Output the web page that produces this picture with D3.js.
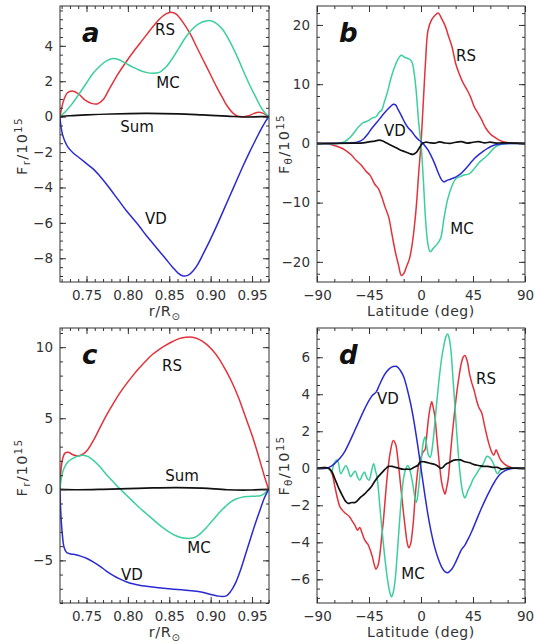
<!DOCTYPE html>
<html>
<head>
<meta charset="utf-8">
<script src="https://cdn.jsdelivr.net/npm/d3@7"></script>
<style>
  html, body { margin: 0; padding: 0; background: #fff; }
  svg { display: block; }
  text { font-family: "DejaVu Sans", sans-serif; }
</style>
</head>
<body>
<svg id="chart" width="535" height="643"></svg>
<script>
// ---------- Panel a: radial fluxes, 1st case (r/R_sun, F_r / 1e15) ----------
const aRS = [[0.718,0],[0.720,0.5],[0.723,1.0],[0.727,1.35],[0.733,1.45],[0.740,1.3],[0.748,0.95],[0.756,0.75],[0.763,0.72],[0.770,0.95],[0.778,1.6],[0.788,2.4],[0.798,3.1],[0.808,3.75],[0.818,4.35],[0.828,4.95],[0.838,5.5],[0.846,5.8],[0.852,5.9],[0.858,5.8],[0.867,5.3],[0.875,4.7],[0.883,3.95],[0.891,3.2],[0.899,2.45],[0.907,1.7],[0.914,1.1],[0.920,0.6],[0.927,0.2],[0.933,0.02],[0.940,0.0],[0.946,0.05],[0.952,0.17],[0.958,0.25],[0.963,0.2],[0.967,0.1],[0.970,0]];
const aMC = [[0.718,0],[0.725,0.3],[0.733,0.75],[0.742,1.35],[0.750,1.9],[0.758,2.45],[0.766,2.85],[0.774,3.15],[0.782,3.28],[0.790,3.2],[0.798,3.0],[0.806,2.8],[0.814,2.62],[0.822,2.5],[0.830,2.45],[0.838,2.5],[0.846,2.8],[0.854,3.3],[0.862,3.9],[0.870,4.5],[0.878,4.95],[0.886,5.25],[0.894,5.4],[0.900,5.42],[0.906,5.3],[0.914,4.95],[0.922,4.35],[0.930,3.6],[0.938,2.75],[0.946,1.9],[0.954,1.15],[0.960,0.6],[0.965,0.25],[0.970,0]];
const aVD = [[0.718,0],[0.719,-0.5],[0.721,-1.0],[0.724,-1.4],[0.728,-1.75],[0.734,-2.05],[0.742,-2.35],[0.750,-2.65],[0.758,-2.95],[0.766,-3.35],[0.774,-3.8],[0.782,-4.3],[0.790,-4.8],[0.798,-5.3],[0.806,-5.75],[0.814,-6.2],[0.822,-6.7],[0.830,-7.15],[0.838,-7.6],[0.846,-8.05],[0.854,-8.5],[0.861,-8.85],[0.867,-9.0],[0.873,-8.95],[0.879,-8.7],[0.885,-8.3],[0.891,-7.75],[0.899,-7.0],[0.907,-6.2],[0.915,-5.35],[0.923,-4.5],[0.931,-3.65],[0.939,-2.8],[0.947,-2.0],[0.955,-1.25],[0.961,-0.7],[0.966,-0.3],[0.970,0]];
const aSum = [[0.718,0],[0.73,0.05],[0.75,0.1],[0.78,0.15],[0.82,0.18],[0.86,0.16],[0.89,0.1],[0.92,0.03],[0.94,-0.02],[0.96,0],[0.97,0]];

// ---------- Panel b: latitudinal fluxes, 1st case (latitude, F_theta / 1e15) ----------
const bRS = [[-90,0],[-80,-0.1],[-75,-0.35],[-70,-0.7],[-65,-1.2],[-60,-2.0],[-56,-2.9],[-52,-3.6],[-48,-4.6],[-44,-5.4],[-40,-6.9],[-37,-7.6],[-34,-9.0],[-31,-10.8],[-28,-12.4],[-25,-15.5],[-22,-18.5],[-19.5,-20.5],[-17,-22.3],[-15,-22.0],[-12.5,-20.8],[-10,-19.5],[-8,-17.5],[-6,-14.5],[-4,-10.5],[-2,-5],[0,0],[2,7],[4,14],[6,19],[9,20.8],[12,21.6],[15,22.0],[18,21],[21,19.8],[24,18.0],[27,16.2],[30,13.5],[33,11.8],[36,10.4],[40,9.0],[43,7.8],[46,6.2],[49,5.2],[52,4.2],[56,2.6],[60,1.6],[64,1.0],[68,0.5],[72,0.25],[78,0.05],[90,0]];
const bMC = [[-90,0],[-72,0],[-66,0.3],[-62,0.9],[-58,1.8],[-54,2.8],[-50,3.5],[-46,3.8],[-42,4.3],[-39,4.5],[-36,5.3],[-34,5.6],[-32,6.8],[-29,8.7],[-26,11.0],[-23,12.8],[-20,14.2],[-17,14.9],[-14,14.5],[-11,14.3],[-8,13.8],[-6,12.0],[-4,8.5],[-2,3.5],[0,0],[2,-6],[4,-13],[6,-17],[8,-18.3],[11,-17.6],[14,-17.0],[17,-16.0],[20,-12.5],[23,-9.5],[26,-7.6],[30,-6.0],[34,-5.6],[38,-5.3],[42,-5.1],[46,-4.3],[50,-3.3],[54,-2.6],[58,-1.9],[62,-1.0],[66,-0.4],[70,-0.15],[76,-0.03],[90,0]];
const bVD = [[-90,0],[-60,0.1],[-54,0.3],[-50,0.7],[-46,1.6],[-42,2.7],[-38,3.6],[-34,4.6],[-30,5.5],[-27,6.1],[-24,6.6],[-22,6.5],[-20,5.8],[-17,4.7],[-14,3.5],[-11,2.6],[-8,2.0],[-5,1.2],[-2,0.6],[0,0.3],[3,-0.3],[6,-1.1],[9,-2.2],[12,-3.5],[15,-5.0],[18,-6.2],[20,-6.5],[23,-6.2],[26,-6.0],[30,-5.7],[34,-5.2],[38,-4.4],[42,-3.5],[46,-2.6],[50,-1.9],[54,-1.3],[58,-0.8],[62,-0.4],[66,-0.2],[72,-0.05],[90,0]];
const bSum = [[-90,0],[-60,0.05],[-50,0.1],[-44,0.3],[-40,0.4],[-36,0.55],[-33,0.4],[-30,0.1],[-26,-0.3],[-22,-0.7],[-18,-1.1],[-14,-1.4],[-10,-1.7],[-7,-1.85],[-4,-1.5],[-1,-0.6],[1,-0.05],[4,0.2],[8,0.1],[12,0.05],[16,0.25],[20,0.1],[25,0.0],[30,0.2],[35,0.3],[40,0.05],[45,0.2],[50,0.3],[55,0.1],[60,0.2],[65,0.05],[70,0.1],[90,0]];

// ---------- Panel c: radial fluxes, 2nd case ----------
const cRS = [[0.718,0],[0.719,1.2],[0.721,2.1],[0.724,2.55],[0.728,2.6],[0.733,2.45],[0.739,2.35],[0.745,2.45],[0.751,2.75],[0.758,3.4],[0.766,4.3],[0.774,5.2],[0.782,6.0],[0.790,6.75],[0.798,7.4],[0.806,8.0],[0.814,8.55],[0.822,9.05],[0.830,9.5],[0.838,9.85],[0.846,10.15],[0.854,10.4],[0.862,10.6],[0.870,10.7],[0.878,10.7],[0.886,10.55],[0.894,10.25],[0.902,9.8],[0.910,9.2],[0.918,8.4],[0.926,7.5],[0.934,6.4],[0.942,5.1],[0.950,3.8],[0.956,2.7],[0.961,1.7],[0.965,0.9],[0.968,0.35],[0.970,0]];
const cMC = [[0.718,0],[0.720,0.9],[0.723,1.5],[0.728,1.95],[0.734,2.2],[0.740,2.35],[0.746,2.4],[0.752,2.3],[0.758,2.05],[0.766,1.6],[0.774,1.05],[0.782,0.55],[0.790,0.05],[0.798,-0.4],[0.806,-0.85],[0.814,-1.3],[0.822,-1.7],[0.830,-2.1],[0.838,-2.5],[0.846,-2.85],[0.854,-3.15],[0.862,-3.35],[0.870,-3.45],[0.876,-3.45],[0.882,-3.35],[0.888,-3.1],[0.894,-2.75],[0.900,-2.35],[0.906,-1.95],[0.912,-1.55],[0.918,-1.2],[0.924,-0.9],[0.930,-0.7],[0.938,-0.55],[0.946,-0.5],[0.954,-0.48],[0.960,-0.45],[0.965,-0.3],[0.970,0]];
const cVD = [[0.718,0],[0.7185,-1.0],[0.7195,-2.2],[0.721,-3.3],[0.723,-4.1],[0.726,-4.45],[0.731,-4.55],[0.737,-4.6],[0.743,-4.7],[0.750,-4.85],[0.758,-5.1],[0.766,-5.4],[0.774,-5.75],[0.782,-6.05],[0.790,-6.3],[0.798,-6.5],[0.806,-6.65],[0.814,-6.75],[0.822,-6.82],[0.830,-6.88],[0.840,-6.95],[0.850,-7.0],[0.860,-7.05],[0.870,-7.1],[0.880,-7.15],[0.890,-7.25],[0.900,-7.4],[0.908,-7.5],[0.914,-7.55],[0.919,-7.5],[0.924,-7.2],[0.930,-6.6],[0.936,-5.7],[0.942,-4.6],[0.948,-3.5],[0.954,-2.4],[0.960,-1.4],[0.965,-0.6],[0.970,0]];
const cSum = [[0.718,0],[0.74,-0.03],[0.77,0],[0.80,0.05],[0.83,0.1],[0.86,0.12],[0.89,0.08],[0.92,-0.03],[0.945,-0.05],[0.97,0]];

// ---------- Panel d: latitudinal fluxes, 2nd case ----------
const dRS = [[-90,0],[-80,0],[-77,-0.3],[-74.5,-1.0],[-72,-1.7],[-70,-2.1],[-66,-2.4],[-62,-2.6],[-60,-2.8],[-57,-3.1],[-55,-3.35],[-53,-3.2],[-51,-3.5],[-48.5,-3.9],[-46,-4.1],[-44,-4.4],[-42,-4.8],[-40.5,-5.2],[-39,-5.45],[-37,-5.2],[-35.5,-4.6],[-34,-3.7],[-32.5,-2.8],[-30.5,-1.3],[-28.5,0.0],[-26.5,0.9],[-24,1.5],[-22,1.3],[-21,1.0],[-19.5,0.2],[-18,-0.7],[-16.5,-1.6],[-15,-2.5],[-13.5,-3.3],[-12,-4.0],[-10.5,-4.3],[-9,-4.1],[-8,-3.7],[-6.5,-2.8],[-5,-1.5],[-3.5,-0.5],[-2,0.2],[0,0.6],[2,0.9],[3.5,1.0],[5,1.8],[6.5,2.7],[8,3.3],[9.3,3.6],[10.5,3.3],[12,2.8],[13.5,1.8],[15,0.8],[16.5,-0.1],[18,-0.8],[19.5,-1.2],[20.8,-1.4],[22,-1.1],[23.5,-0.6],[25,0.4],[27,1.8],[29,3.0],[31,4.1],[33,5.0],[35,5.7],[36.5,6.0],[38,6.1],[40,5.8],[42,5.1],[44,4.6],[46,4.2],[48,3.7],[50,3.3],[52.5,3.0],[55,2.3],[58,1.5],[61,0.9],[63,0.7],[65,1.0],[66.5,0.8],[68.5,0.5],[71,0.3],[74,0.15],[78,0.05],[82,0],[90,0]];
const dMC = [[-90,0],[-80,0],[-77.5,-0.2],[-75.5,0.2],[-73,0.45],[-71.5,0.3],[-69.5,-0.3],[-67.5,-0.1],[-65,0.15],[-63,-0.1],[-61,-0.45],[-59,-0.3],[-57,-0.15],[-55,-0.45],[-53,-0.65],[-51,-0.4],[-49,-0.2],[-47,-0.5],[-45,-0.65],[-43,-0.2],[-41,0.25],[-39.5,-0.1],[-38,-0.5],[-36.5,-1.4],[-35,-2.5],[-33,-3.8],[-31,-5.0],[-29,-6.0],[-27,-6.7],[-25.5,-6.95],[-24,-6.7],[-22.5,-6.1],[-21,-5.0],[-19.5,-3.7],[-18,-2.4],[-16.5,-1.3],[-15,-0.5],[-13.5,-0.1],[-11.5,0.15],[-10,0.0],[-8.5,-0.4],[-7,-0.9],[-5.5,-1.5],[-4,-1.85],[-2.5,-1.3],[-1,-0.4],[0.5,0.6],[2,1.4],[3.5,1.7],[5,1.2],[6.5,0.7],[8,0.6],[9.5,1.0],[11,1.8],[12.5,2.8],[14,3.8],[16,5.0],[18,6.0],[20,6.7],[21.5,7.1],[23,7.25],[24.5,7.0],[26,6.3],[27.5,5.0],[29,3.7],[30.5,2.3],[32,1.0],[33.5,-0.1],[35,-0.9],[36.5,-1.4],[38,-1.6],[39.5,-1.4],[41,-1.15],[43,-0.9],[45,-0.6],[47,-0.4],[49,-0.2],[51,0.0],[53,0.15],[55,0.4],[57,0.65],[59,0.6],[61,0.45],[63,0.2],[65,-0.2],[66.5,-0.3],[68,-0.15],[70,-0.05],[75,0],[90,0]];
const dVD = [[-90,0],[-82,0],[-78,0.1],[-74,0.3],[-70,0.55],[-66,0.9],[-62,1.4],[-58,1.95],[-54,2.5],[-50,3.05],[-46,3.55],[-42,3.95],[-39,4.1],[-36,4.5],[-33,4.9],[-30,5.2],[-27,5.4],[-24,5.5],[-21,5.5],[-18,5.3],[-15,4.95],[-12,4.3],[-9,3.5],[-6,2.5],[-3,1.3],[0,0],[3,-1.3],[6,-2.5],[9,-3.5],[12,-4.3],[15,-4.9],[18,-5.35],[21,-5.6],[23,-5.65],[26,-5.5],[29,-5.2],[32,-4.8],[35,-4.4],[38,-4.15],[41,-3.8],[44,-3.4],[48,-2.8],[52,-2.2],[56,-1.65],[60,-1.15],[64,-0.7],[68,-0.35],[72,-0.15],[76,-0.05],[82,0],[90,0]];
const dSum = [[-90,0],[-80,0],[-77,-0.2],[-75,-0.5],[-73,-0.8],[-71,-1.1],[-69,-1.35],[-67,-1.6],[-65,-1.8],[-63,-1.9],[-60,-1.85],[-57,-1.85],[-55,-1.75],[-52,-1.55],[-49,-1.4],[-46,-1.2],[-43,-1.0],[-40,-0.7],[-37,-0.45],[-34,-0.25],[-31,-0.05],[-28,0.1],[-25,0.1],[-22,0.05],[-19,0.0],[-16,-0.05],[-12,-0.05],[-9,-0.05],[-6,0.05],[-3,0.15],[0,0.35],[3,0.35],[6,0.3],[9,0.25],[12,0.2],[15,0.1],[17,0.0],[19,0.05],[21,0.2],[24,0.3],[27,0.4],[30,0.45],[34,0.45],[38,0.35],[42,0.3],[46,0.2],[50,0.15],[54,0.1],[58,0.1],[62,0.05],[66,0.05],[70,-0.05],[74,0],[90,0]];

// ---------- Tick values ----------
const radiusTicks = [0.75, 0.80, 0.85, 0.90, 0.95];
const latitudeTicks = [-90, -45, 0, 45, 90];
const aYTicks = [-8, -6, -4, -2, 0, 2, 4];
const bYTicks = [-20, -10, 0, 10, 20];
const cYTicks = [-5, 0, 5, 10];
const dYTicks = [-6, -4, -2, 0, 2, 4, 6];

const seriesNames = ["RS", "MC", "VD", "Sum"];
const colors = { RS: "#e2323b", MC: "#3ccf9c", VD: "#2a2ad2", Sum: "#111111" };

const svg = d3.select("#chart");

const radialXTitle = [{ t: "r/R", size: 14.5 }, { t: "\u2299", size: 10, dy: 4 }];
const latXTitle = [{ t: "Latitude (deg)", size: 14 }];
const frTitle = [{ t: "F", size: 14.5 }, { t: "r", size: 10.5, dy: 3 }, { t: "/10", size: 14.5, dy: -3 }, { t: "15", size: 10.5, dy: -5 }];
const fthTitle = [{ t: "F", size: 14.5 }, { t: "\u03b8", size: 10.5, dy: 3 }, { t: "/10", size: 14.5, dy: -3 }, { t: "15", size: 10.5, dy: -5 }];

const panels = [
  { letter: "a", box: [60, 6, 209, 276], xDomain: [0.718, 0.9705], yDomain: [-9.34, 6.25],
    xTicks: radiusTicks, xMinor: 0.01, yTicks: aYTicks, yMinor: 0.5, xFmt: d3.format(".2f"),
    data: { RS: aRS, MC: aMC, VD: aVD, Sum: aSum }, xTitle: radialXTitle, yTitle: frTitle,
    labels: { RS: [165, 30], MC: [168, 83], Sum: [137, 127], VD: [156, 219] } },
  { letter: "b", box: [317, 6, 208, 276], xDomain: [-90, 90], yDomain: [-23.4, 23.2],
    xTicks: latitudeTicks, xMinor: 15, yTicks: bYTicks, yMinor: 2, xFmt: d3.format("d"),
    data: { RS: bRS, MC: bMC, VD: bVD, Sum: bSum }, xTitle: latXTitle, yTitle: fthTitle,
    labels: { RS: [466, 56], VD: [395, 131], MC: [462, 229] } },
  { letter: "c", box: [60, 328, 209, 275], xDomain: [0.718, 0.9705], yDomain: [-8.0, 11.35],
    xTicks: radiusTicks, xMinor: 0.01, yTicks: cYTicks, yMinor: 1, xFmt: d3.format(".2f"),
    data: { RS: cRS, MC: cMC, VD: cVD, Sum: cSum }, xTitle: radialXTitle, yTitle: frTitle,
    labels: { RS: [172, 366], Sum: [182, 476], MC: [199, 548], VD: [132, 575] } },
  { letter: "d", box: [317, 328, 208, 275], xDomain: [-90, 90], yDomain: [-7.28, 7.58],
    xTicks: latitudeTicks, xMinor: 15, yTicks: dYTicks, yMinor: 0.5, xFmt: d3.format("d"),
    data: { RS: dRS, MC: dMC, VD: dVD, Sum: dSum }, xTitle: latXTitle, yTitle: fthTitle,
    labels: { VD: [388, 399], RS: [486, 379], MC: [413, 574] } }
];

function minorValues(domain, step) {
  const out = [];
  const start = Math.ceil(domain[0] / step - 1e-9);
  const end = Math.floor(domain[1] / step + 1e-9);
  for (let i = start; i <= end; i++) out.push(+(i * step).toFixed(6));
  return out;
}

function addRich(sel, parts) {
  parts.forEach(p => {
    sel.append("tspan").attr("font-size", p.size).attr("dy", p.dy || 0).text(p.t);
  });
}

function styleAxis(g) {
  g.select(".domain").remove();
  g.selectAll(".tick line").attr("stroke", "#333").attr("stroke-width", 1);
  g.selectAll("text").attr("fill", "#333").attr("font-size", 13.5)
    .attr("font-family", "DejaVu Sans, sans-serif");
}

panels.forEach((p, i) => {
  const [L, T, W, H] = p.box;
  const x = d3.scaleLinear().domain(p.xDomain).range([L, L + W]);
  const y = d3.scaleLinear().domain(p.yDomain).range([T + H, T]);
  const g = svg.append("g").attr("class", "panel-" + p.letter);

  const clipId = "clip-" + p.letter;
  g.append("clipPath").attr("id", clipId).append("rect")
    .attr("x", L).attr("y", T).attr("width", W).attr("height", H);

  const line = d3.line().x(d => x(d[0])).y(d => y(d[1])).curve(d3.curveCatmullRom.alpha(0.5));
  const curves = g.append("g").attr("clip-path", `url(#${clipId})`);
  seriesNames.forEach(name => {
    curves.append("path").datum(p.data[name])
      .attr("fill", "none").attr("stroke", colors[name])
      .attr("stroke-width", name === "Sum" ? 1.7 : 1.5)
      .attr("stroke-linejoin", "round")
      .attr("d", line);
  });

  // major + minor ticks on all four sides, pointing inward
  const xMinor = minorValues(p.xDomain, p.xMinor);
  const yMinor = minorValues(p.yDomain, p.yMinor);

  g.append("g").attr("transform", `translate(0,${T + H})`)
    .call(d3.axisBottom(x).tickValues(xMinor).tickSize(-3).tickFormat("")).call(styleAxis);
  g.append("g").attr("transform", `translate(0,${T})`)
    .call(d3.axisTop(x).tickValues(xMinor).tickSize(-3).tickFormat("")).call(styleAxis);
  g.append("g").attr("transform", `translate(${L},0)`)
    .call(d3.axisLeft(y).tickValues(yMinor).tickSize(-3).tickFormat("")).call(styleAxis);
  g.append("g").attr("transform", `translate(${L + W},0)`)
    .call(d3.axisRight(y).tickValues(yMinor).tickSize(-3).tickFormat("")).call(styleAxis);

  g.append("g").attr("transform", `translate(0,${T + H})`)
    .call(d3.axisBottom(x).tickValues(p.xTicks).tickSize(-6).tickPadding(8).tickFormat(p.xFmt)).call(styleAxis);
  g.append("g").attr("transform", `translate(0,${T})`)
    .call(d3.axisTop(x).tickValues(p.xTicks).tickSize(-6).tickFormat("")).call(styleAxis);
  g.append("g").attr("transform", `translate(${L},0)`)
    .call(d3.axisLeft(y).tickValues(p.yTicks).tickSize(-6).tickPadding(7).tickFormat(d3.format("d"))).call(styleAxis);
  g.append("g").attr("transform", `translate(${L + W},0)`)
    .call(d3.axisRight(y).tickValues(p.yTicks).tickSize(-6).tickFormat("")).call(styleAxis);

  // frame
  g.append("rect").attr("x", L).attr("y", T).attr("width", W).attr("height", H)
    .attr("fill", "none").attr("stroke", "#333").attr("stroke-width", 1);

  // axis titles
  const xt = g.append("text").attr("x", L + W / 2).attr("y", T + H + 34)
    .attr("text-anchor", "middle").attr("fill", "#333").attr("letter-spacing", 0.6);
  addRich(xt, p.xTitle);

  const ytx = (i % 2 === 0) ? 27 : 289;
  const yty = T + H / 2 + (i % 2 === 0 ? 2 : 0);
  const yt = g.append("text").attr("transform", `translate(${ytx},${yty}) rotate(-90)`)
    .attr("text-anchor", "middle").attr("dy", "0.35em").attr("fill", "#333").attr("letter-spacing", 1.2);
  addRich(yt, p.yTitle);

  // panel letter
  g.append("text").attr("x", L + 22).attr("y", T + 36)
    .attr("font-family", "Liberation Serif, serif").attr("font-style", "italic").attr("font-weight", "bold")
    .attr("font-size", 26).attr("fill", "#111").text(p.letter);

  // curve labels
  Object.entries(p.labels).forEach(([name, pos]) => {
    g.append("text").attr("x", pos[0]).attr("y", pos[1])
      .attr("text-anchor", "middle").attr("dominant-baseline", "central")
      .attr("font-size", 15).attr("fill", "#111").text(name);
  });
});
</script>
</body>
</html>
